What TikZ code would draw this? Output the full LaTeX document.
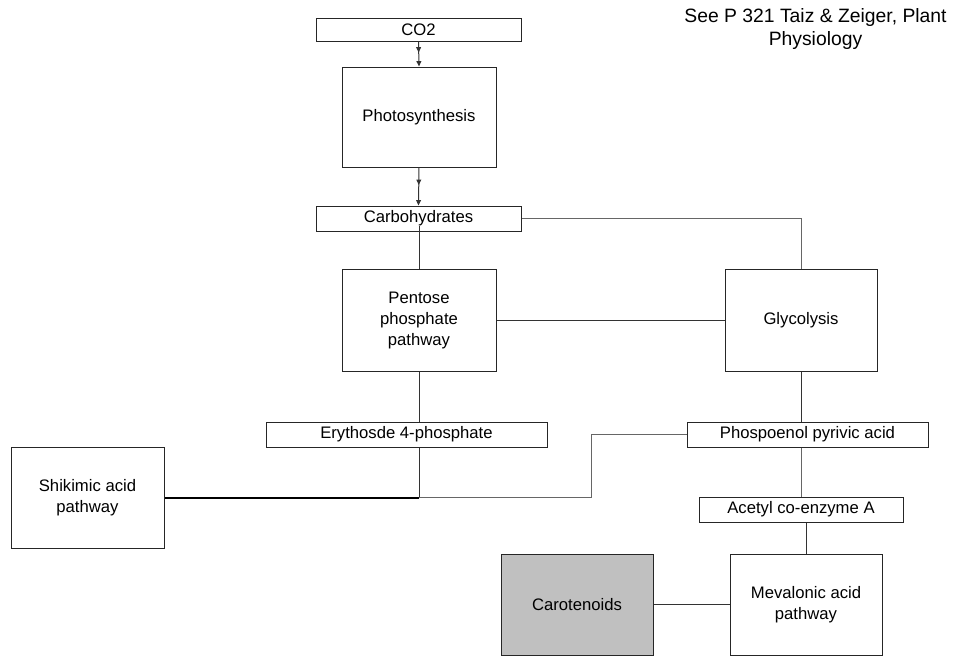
\documentclass[tikz,border=0pt]{standalone}
\usepackage{fontspec}
\setmainfont{Liberation Sans}
\usetikzlibrary{arrows.meta,decorations.markings,calc}
\begin{document}
\begin{tikzpicture}[x=0.75pt,y=-0.75pt,
  boxnode/.style 2 args={draw=black!85,line width=0.75pt,fill=white,inner sep=0pt,
    minimum width=#1*0.75pt,minimum height=#2*0.75pt,align=center,
    font=\fontsize{12.5}{15.75}\selectfont},
  link/.style={draw=black!80,line width=0.75pt},
  greylink/.style={draw=black!60,line width=0.75pt},
  thicklink/.style={draw=black,line width=1.5pt},
  flow/.style={link,-{Triangle[length=4pt,width=3.6pt]},
    postaction={decorate},
    decoration={markings,mark=at position #1 with {\arrow{Triangle[length=4pt,width=3.6pt]}}}}
]
\useasboundingbox (0,0) rectangle (958,658);
\fill[white] (0,0) rectangle (958,658);

\node[boxnode={205}{23}] (co2) at (418.5,29.5) {CO2};
\node[boxnode={154}{100}] (photo) at (419,117) {Photosynthesis};
\node[boxnode={205}{25}] (carb) at (418.5,218.5) {Carbohydrates};
\node[boxnode={154}{102}] (pent) at (419,320) {Pentose\\phosphate\\pathway};
\node[boxnode={152}{102}] (glyc) at (801,320) {Glycolysis};
\node[boxnode={281}{25}] (eryth) at (406.5,434.5) {Erythosde 4-phosphate};
\node[boxnode={241}{25}] (phos) at (807.5,434.5) {Phospoenol pyrivic acid};
\node[boxnode={153}{101}] (shik) at (87.5,497.5) {Shikimic acid\\pathway};
\node[boxnode={204}{25}] (acetyl) at (801,509.5) {Acetyl co-enzyme A};
\node[boxnode={152}{101},fill={rgb,255:red,192;green,192;blue,192}] (carot) at (577,604.5) {Carotenoids};
\node[boxnode={152}{101}] (meval) at (806,604.5) {Mevalonic acid\\pathway};

\node[align=center,font=\fontsize{14.5}{17.5}\selectfont] (note) at (815.5,29) {See P 321 Taiz \& Zeiger, Plant\\Physiology};

% arrows
\draw[flow=0.44] (co2.south) -- (photo.north);
\draw[flow=0.46] (photo.south) -- (carb.north);

% connectors
\draw[link] ($(pent.north |- carb.south)+(0,-6)$) -- (pent.north);
\draw[greylink] (carb.east) -| (glyc.north);
\draw[link] (pent.east) -- (glyc.west);
\draw[link] (pent.south) -- (pent.south |- eryth.north);
\draw[link] (glyc.south) -- (glyc.south |- phos.north);
\coordinate (j) at (pent.south |- shik.east);
\coordinate (k) at (591,497.5);
\draw[link] (pent.south |- eryth.south) -- (j);
\draw[thicklink] (j) -- (shik.east);
\draw[greylink] (j) -- (k) |- (phos.west);
\draw[greylink] (acetyl.north |- phos.south) -- (acetyl.north);
\draw[link] (meval.north |- acetyl.south) -- (meval.north);
\draw[link] (carot.east) -- (meval.west);
\end{tikzpicture}
\end{document}
